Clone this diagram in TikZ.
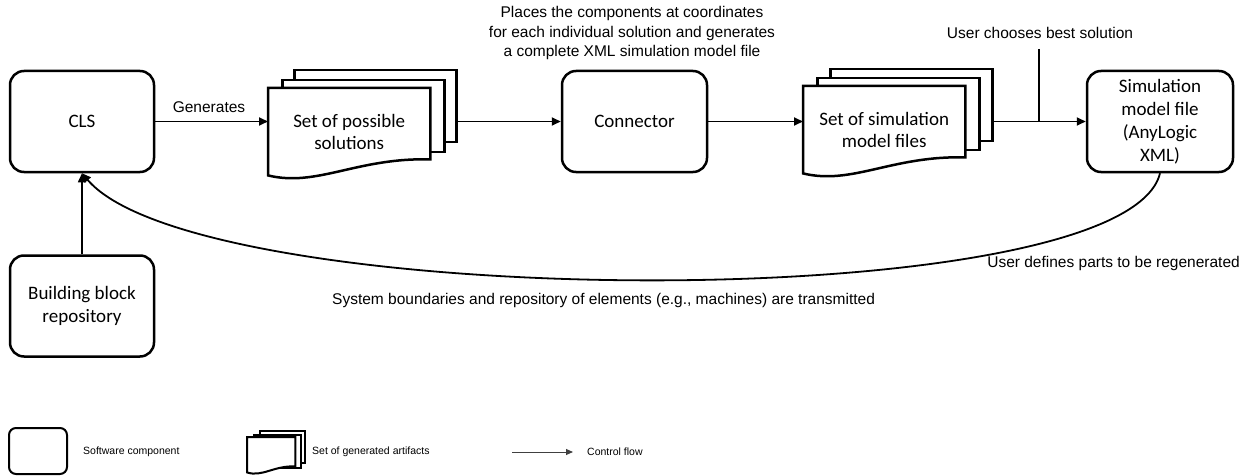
\documentclass[tikz,border=0pt]{standalone}
\usepackage{fontspec}
\setmainfont{Liberation Sans}
\newfontfamily\calib{Carlito}
\usetikzlibrary{arrows.meta,calc}
\begin{document}
\begin{tikzpicture}[x=1pt,y=-1pt,
 comp/.style={draw, line width=2.5pt, rounded corners=14pt, minimum width=144pt, minimum height=101pt, align=center, inner sep=0pt, font=\calib\fontsize{19}{23}\selectfont},
 boxtext/.style={align=center, inner sep=0pt, font=\calib\fontsize{19}{22}\selectfont},
 docback/.style={draw, line width=2.5pt, fill=white, minimum width=162pt, minimum height=72pt, inner sep=0pt},
 docfront/.style={minimum width=162pt, minimum height=87pt, inner sep=0pt},
 docline/.style={draw, line width=2.5pt, fill=white},
 flow/.style={-{Triangle[length=9pt,width=8pt]}, line width=1.8pt},
 lbl/.style={align=center, inner sep=0pt, font=\fontsize{15.5}{19.5}\selectfont},
 small/.style={inner sep=0pt, font=\fontsize{10.5}{12}\selectfont, anchor=west},
]
\useasboundingbox[fill=white] (0,0) rectangle (1250,476);

% software components
\node[comp] (cls) at (82,121.5) {CLS};
\node[comp] (bb) at (82,306) {Building block\\repository};
\node[comp, minimum width=145pt] (conn) at (634.5,121.5) {Connector};
\node[comp, minimum width=146pt] (sim) at (1160,121.5) {Simulation\\model file\\(AnyLogic\\XML)};

% set of possible solutions
\node[docback, anchor=north west] (solc) at (293,69) {};
\node[docback, anchor=north west] (solb) at (281,79) {};
\node[docfront, anchor=north west] (sol) at (268,88) {};
\draw[docline] (sol.south west) -- (sol.north west) -- (sol.north east) -- ($(sol.south east)+(0,-16)$)
  .. controls ($(sol.south west)+(89,-18)$) and ($(sol.south west)+(49,12)$) .. cycle;
\node[boxtext] (solt) at (sol.center) {Set of possible\\solutions};

% set of simulation model files
\node[docback, anchor=north west] (simdc) at (829,68) {};
\node[docback, anchor=north west] (simdb) at (816,77) {};
\node[docfront, anchor=north west] (simd) at (803,86) {};
\draw[docline] (simd.south west) -- (simd.north west) -- (simd.north east) -- ($(simd.south east)+(0,-16)$)
  .. controls ($(simd.south west)+(89,-18)$) and ($(simd.south west)+(49,12)$) .. cycle;
\node[boxtext] (simdt) at (simd.center) {Set of simulation\\model files};

% connectors
\draw[flow] (cls.east) -- (cls.east -| sol.west);
\node[lbl] (gen) at (209,107) {Generates};
\draw[flow] (solc.east |- cls.east) -- (conn.west);
\draw[flow] (conn.east) -- (conn.east -| simd.west);
\draw[flow] (simdc.east |- sim.west) -- (sim.west);
\node[lbl] (place) at (632,33) {Places the components at coordinates\\for each individual solution and generates\\a complete XML simulation model file};
\node[lbl] (choose) at (1040,33) {User chooses best solution};
\coordinate (chtop) at (1039,49);
\draw[line width=1.5pt] (chtop) -- (chtop |- sim.west);

\draw[flow, line width=1.5pt] (bb.north) -- (cls.south);
\draw[flow] (sim.south) .. controls (1125,318) and (200,312) .. (cls.south);
\node[lbl, anchor=east] (regen) at (1240,263) {User defines parts to be regenerated};
\node[lbl, anchor=west] (trans) at (332,300) {System boundaries and repository of elements (e.g., machines) are transmitted};

% legend
\node[draw, line width=2pt, rounded corners=7pt, minimum width=58pt, minimum height=46pt, inner sep=0pt] (lcomp) at (38,451) {};
\node[small] (lcompt) at (83,452) {Software component};
\node[draw, line width=2pt, fill=white, minimum width=45pt, minimum height=32pt, inner sep=0pt, anchor=north west] (ldocc) at (259,430) {};
\node[draw, line width=2pt, fill=white, minimum width=47pt, minimum height=33pt, inner sep=0pt, anchor=north west] (ldocb) at (253,433.5) {};
\node[minimum width=48pt, minimum height=35pt, inner sep=0pt, anchor=north west] (ldoc) at (247,437) {};
\draw[line width=2pt, fill=white] (ldoc.south west) -- (ldoc.north west) -- (ldoc.north east) -- ($(ldoc.south east)+(0,-6)$)
  .. controls ($(ldoc.south west)+(27,-7)$) and ($(ldoc.south west)+(15,5)$) .. cycle;
\node[small] (ldoct) at (312,452) {Set of generated artifacts};
\coordinate (la) at (512,452);
\coordinate (lb) at (573,452);
\draw[-{Triangle[length=7pt,width=6pt]}, line width=1pt, black!75] (la) -- (lb);
\node[small] (lflow) at (587,452) {Control flow};
\end{tikzpicture}
\end{document}
